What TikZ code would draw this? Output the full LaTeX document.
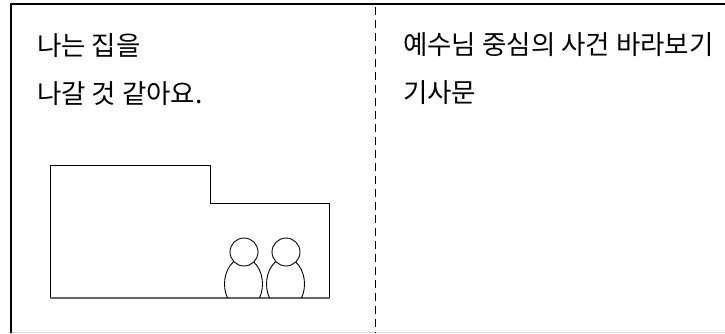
\documentclass[tikz,border=0pt]{standalone}
\usepackage{fontspec}
\newfontfamily\kofont{Noto Sans CJK KR}
\begin{document}
\begin{tikzpicture}[x=1pt,y=-1pt,
  frameline/.style={line width=1.4pt,black},
  divider/.style={line width=1pt,dash pattern=on 8pt off 5pt},
  outline/.style={line width=0.9pt,black},
  caption/.style={anchor=base west,inner sep=0pt,font=\kofont\fontsize{26.5}{26.5}\selectfont}]
  \useasboundingbox (0,0) rectangle (725,333);
  % outer frame
  \draw[frameline] (11,333) -- (11,4) -- (725,4);
  \draw[line width=1pt,black!15] (12,332) -- (725,332);
  % column divider
  \coordinate (divtop) at (375,7);
  \coordinate (divbot) at (375,333);
  \draw[divider] (divtop) -- (divbot);
  % left column text
  \node[caption] (l1) at (37,55) {나는 집을};
  \node[caption] (l2) at (37,103) {나갈 것 같아요.};
  % right column text
  \node[caption] (r1) at (403,54) {예수님 중심의 사건 바라보기};
  \node[caption] (r2) at (403,102) {기사문};
  % house outline
  \draw[outline] (50,298) -- (50,165) -- (210,165) -- (210,203) -- (329,203) -- (329,298);
  \draw[line width=1.4pt,black!60] (49.5,298) -- (329.5,298);
  % two figures
  \begin{scope}
    \clip (50,297.5) rectangle (329,100);
    \draw[outline] (243.5,284) ellipse [x radius=19, y radius=26];
    \draw[outline] (285.5,284) ellipse [x radius=19, y radius=26];
  \end{scope}
  \draw[outline,fill=white] (244,252) circle [radius=14];
  \draw[outline,fill=white] (286,252) circle [radius=14];
\end{tikzpicture}
\end{document}
